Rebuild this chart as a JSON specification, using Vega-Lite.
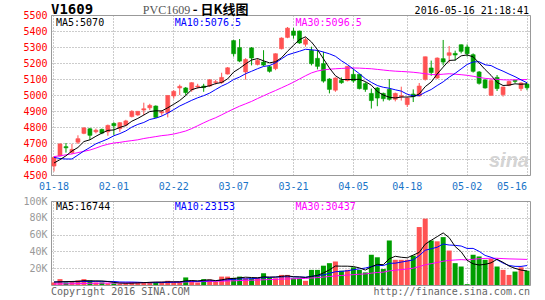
{
  "$schema": "https://vega.github.io/schema/vega-lite/v6.json",
  "autosize": {"type": "pad"},
  "padding": {"left": 22, "top": 2, "right": 16, "bottom": 2},
  "background": "white",
  "bounds": "flush",
  "spacing": 26,
  "config": {
    "view": {"stroke": "#999999", "strokeWidth": 1},
    "axis": {"labelOverlap": false, "labelBound": false, "labelFlush": false},
    "axisY": {"labelOverlap": false},
    "axisQuantitative": {"labelOverlap": false}
  },
  "datasets": {
    "k": [
      {"d":"2016-01-18","o":4556,"h":4615,"l":4522,"c":4610,"v":3000,"m5":4575,"m10":4610,"m30":4615,"v5":3500,"v10":3600,"v30":1200},
      {"d":"2016-01-19","o":4619,"h":4698,"l":4615,"c":4694,"v":7000,"m5":4596,"m10":4603,"m30":4620,"v5":3800,"v10":3700,"v30":1300},
      {"d":"2016-01-20","o":4677,"h":4700,"l":4640,"c":4670,"v":3000,"m5":4620,"m10":4600,"m30":4626,"v5":4000,"v10":3800,"v30":1400},
      {"d":"2016-01-21","o":4640,"h":4695,"l":4630,"c":4660,"v":3500,"m5":4650,"m10":4600,"m30":4632,"v5":4200,"v10":3900,"v30":1500},
      {"d":"2016-01-22","o":4705,"h":4748,"l":4694,"c":4727,"v":5500,"m5":4672,"m10":4625,"m30":4640,"v5":4400,"v10":4000,"v30":1600},
      {"d":"2016-01-25","o":4760,"h":4800,"l":4755,"c":4794,"v":7000,"m5":4709,"m10":4650,"m30":4648,"v5":5200,"v10":4100,"v30":1800},
      {"d":"2016-01-26","o":4789,"h":4795,"l":4720,"c":4748,"v":5500,"m5":4720,"m10":4672,"m30":4656,"v5":4900,"v10":4200,"v30":2000},
      {"d":"2016-01-27","o":4770,"h":4790,"l":4760,"c":4780,"v":3000,"m5":4742,"m10":4695,"m30":4668,"v5":4900,"v10":4300,"v30":2100},
      {"d":"2016-01-28","o":4785,"h":4790,"l":4755,"c":4762,"v":3000,"m5":4762,"m10":4710,"m30":4682,"v5":4800,"v10":4300,"v30":2200},
      {"d":"2016-01-29","o":4770,"h":4815,"l":4745,"c":4810,"v":2000,"m5":4779,"m10":4725.5,"m30":4692,"v5":4100,"v10":4250,"v30":2300},
      {"d":"2016-02-01","o":4822,"h":4830,"l":4750,"c":4808,"v":2000,"m5":4781.6,"m10":4745.3,"m30":4700,"v5":3100,"v10":4150,"v30":2400},
      {"d":"2016-02-02","o":4790,"h":4830,"l":4770,"c":4827,"v":1500,"m5":4797.4,"m10":4758.6,"m30":4704,"v5":2300,"v10":3600,"v30":2500},
      {"d":"2016-02-03","o":4812,"h":4845,"l":4805,"c":4838,"v":2000,"m5":4809,"m10":4775.4,"m30":4710,"v5":2100,"v10":3500,"v30":2600},
      {"d":"2016-02-04","o":4865,"h":4905,"l":4860,"c":4898,"v":3500,"m5":4836.2,"m10":4799.2,"m30":4715,"v5":2200,"v10":3500,"v30":2700},
      {"d":"2016-02-05","o":4875,"h":4900,"l":4870,"c":4898,"v":3500,"m5":4853.8,"m10":4816.3,"m30":4720,"v5":2500,"v10":3300,"v30":2800},
      {"d":"2016-02-15","o":4906,"h":4952,"l":4873,"c":4914,"v":3500,"m5":4875,"m10":4828.3,"m30":4728,"v5":2800,"v10":2950,"v30":2900},
      {"d":"2016-02-16","o":4920,"h":4945,"l":4905,"c":4935,"v":3500,"m5":4896.6,"m10":4847,"m30":4734,"v5":3200,"v10":2750,"v30":3000},
      {"d":"2016-02-17","o":4931,"h":4935,"l":4858,"c":4860,"v":3500,"m5":4901,"m10":4855,"m30":4740,"v5":3500,"v10":2800,"v30":3100},
      {"d":"2016-02-18","o":4888,"h":4905,"l":4870,"c":4895,"v":3500,"m5":4900.4,"m10":4868.3,"m30":4746,"v5":3500,"v10":2850,"v30":3200},
      {"d":"2016-02-19","o":4890,"h":4998,"l":4860,"c":4997,"v":5000,"m5":4920.2,"m10":4887,"m30":4750,"v5":3800,"v10":3150,"v30":3300},
      {"d":"2016-02-22","o":4994,"h":5030,"l":4977,"c":5023,"v":3500,"m5":4942,"m10":4908.5,"m30":4756,"v5":3800,"v10":3300,"v30":3400},
      {"d":"2016-02-23","o":5044,"h":5065,"l":5000,"c":5054,"v":3500,"m5":4965.8,"m10":4931.2,"m30":4765,"v5":3800,"v10":3500,"v30":3500},
      {"d":"2016-02-24","o":5044,"h":5050,"l":4998,"c":5015,"v":9000,"m5":4996.8,"m10":4948.9,"m30":4775,"v5":4900,"v10":4200,"v30":3700},
      {"d":"2016-02-25","o":5032,"h":5080,"l":5020,"c":5077,"v":5500,"m5":5033.2,"m10":4966.8,"m30":4790,"v5":5300,"v10":4400,"v30":3800},
      {"d":"2016-02-26","o":5050,"h":5070,"l":5040,"c":5056,"v":3000,"m5":5045,"m10":4982.6,"m30":4808,"v5":4900,"v10":4350,"v30":3900},
      {"d":"2016-02-29","o":5056,"h":5070,"l":5020,"c":5046,"v":7000,"m5":5049.6,"m10":4995.8,"m30":4826,"v5":5600,"v10":4700,"v30":4100},
      {"d":"2016-03-01","o":5056,"h":5100,"l":5050,"c":5095,"v":6500,"m5":5057.8,"m10":5011.8,"m30":4843,"v5":6200,"v10":5000,"v30":4300},
      {"d":"2016-03-02","o":5078,"h":5095,"l":5065,"c":5083,"v":4000,"m5":5071.4,"m10":5034.1,"m30":4858,"v5":5200,"v10":5050,"v30":4400},
      {"d":"2016-03-03","o":5078,"h":5139,"l":5070,"c":5110,"v":10000,"m5":5078,"m10":5055.6,"m30":4876,"v5":6100,"v10":5700,"v30":4600},
      {"d":"2016-03-04","o":5131,"h":5175,"l":5128,"c":5170,"v":10000,"m5":5100.8,"m10":5072.9,"m30":4895,"v5":7500,"v10":6200,"v30":4800},
      {"d":"2016-03-07","o":5340,"h":5345,"l":5240,"c":5258,"v":8500,"m5":5143.2,"m10":5096.4,"m30":4913,"v5":7800,"v10":6700,"v30":5000},
      {"d":"2016-03-08","o":5296,"h":5350,"l":5205,"c":5212,"v":10000,"m5":5166.6,"m10":5112.2,"m30":4930,"v5":8500,"v10":7350,"v30":5300},
      {"d":"2016-03-09","o":5144,"h":5230,"l":5096,"c":5222,"v":8000,"m5":5194.4,"m10":5132.9,"m30":4945,"v5":9300,"v10":7250,"v30":5500},
      {"d":"2016-03-10","o":5294,"h":5300,"l":5185,"c":5231,"v":8000,"m5":5218.6,"m10":5148.3,"m30":4960,"v5":8900,"v10":7500,"v30":5700},
      {"d":"2016-03-11","o":5191,"h":5230,"l":5185,"c":5216,"v":8500,"m5":5227.8,"m10":5164.3,"m30":4978,"v5":8600,"v10":8050,"v30":5900},
      {"d":"2016-03-14","o":5206,"h":5280,"l":5180,"c":5187,"v":14000,"m5":5213.6,"m10":5178.4,"m30":4995,"v5":9700,"v10":8750,"v30":6200},
      {"d":"2016-03-15","o":5177,"h":5185,"l":5140,"c":5148,"v":9000,"m5":5200.8,"m10":5183.7,"m30":5012,"v5":9500,"v10":9000,"v30":6500},
      {"d":"2016-03-16","o":5165,"h":5260,"l":5155,"c":5258,"v":8000,"m5":5208,"m10":5201.2,"m30":5028,"v5":9500,"v10":9400,"v30":6700},
      {"d":"2016-03-17","o":5289,"h":5360,"l":5285,"c":5356,"v":12000,"m5":5233,"m10":5225.8,"m30":5045,"v5":10300,"v10":9600,"v30":7000},
      {"d":"2016-03-18","o":5360,"h":5425,"l":5355,"c":5418,"v":12000,"m5":5273.4,"m10":5250.6,"m30":5062,"v5":11000,"v10":9800,"v30":7200},
      {"d":"2016-03-21","o":5400,"h":5420,"l":5352,"c":5373,"v":8000,"m5":5310.6,"m10":5262.1,"m30":5080,"v5":9800,"v10":9750,"v30":7400},
      {"d":"2016-03-22","o":5400,"h":5402,"l":5320,"c":5325,"v":8000,"m5":5346,"m10":5273.4,"m30":5100,"v5":9600,"v10":9550,"v30":7600},
      {"d":"2016-03-23","o":5317,"h":5360,"l":5302,"c":5346,"v":5000,"m5":5363.6,"m10":5285.8,"m30":5120,"v5":9000,"v10":9250,"v30":7800},
      {"d":"2016-03-24","o":5279,"h":5302,"l":5185,"c":5196,"v":18000,"m5":5331.6,"m10":5282.3,"m30":5138,"v5":10200,"v10":10250,"v30":8300},
      {"d":"2016-03-25","o":5229,"h":5277,"l":5160,"c":5179,"v":18000,"m5":5283.8,"m10":5278.6,"m30":5150,"v5":11400,"v10":11200,"v30":8800},
      {"d":"2016-03-28","o":5196,"h":5270,"l":5077,"c":5087,"v":23000,"m5":5226.6,"m10":5268.6,"m30":5157,"v5":14400,"v10":12100,"v30":9400},
      {"d":"2016-03-29","o":5100,"h":5105,"l":5010,"c":5035,"v":26000,"m5":5168.6,"m10":5257.3,"m30":5161,"v5":18000,"v10":13800,"v30":10100},
      {"d":"2016-03-30","o":5030,"h":5110,"l":5020,"c":5106,"v":28000,"m5":5120.6,"m10":5242.1,"m30":5164,"v5":22600,"v10":15800,"v30":10800},
      {"d":"2016-03-31","o":5091,"h":5110,"l":5070,"c":5077,"v":17000,"m5":5096.8,"m10":5214.2,"m30":5166,"v5":22400,"v10":16300,"v30":11300},
      {"d":"2016-04-01","o":5090,"h":5180,"l":5085,"c":5179,"v":18000,"m5":5096.8,"m10":5190.3,"m30":5168,"v5":22400,"v10":16900,"v30":11800},
      {"d":"2016-04-05","o":5129,"h":5165,"l":5077,"c":5088,"v":21000,"m5":5097,"m10":5161.8,"m30":5169,"v5":22000,"v10":18200,"v30":12300},
      {"d":"2016-04-06","o":5129,"h":5130,"l":5035,"c":5040,"v":18000,"m5":5098,"m10":5133.3,"m30":5168,"v5":20400,"v10":19200,"v30":12800},
      {"d":"2016-04-07","o":5071,"h":5080,"l":5020,"c":5035,"v":15000,"m5":5083.8,"m10":5102.2,"m30":5166,"v5":17800,"v10":20200,"v30":13200},
      {"d":"2016-04-08","o":5010,"h":5040,"l":4915,"c":4965,"v":36000,"m5":5061.4,"m10":5079.1,"m30":5164,"v5":21600,"v10":22000,"v30":14100},
      {"d":"2016-04-11","o":5044,"h":5050,"l":4930,"c":4981,"v":33000,"m5":5021.8,"m10":5059.3,"m30":5160,"v5":24600,"v10":23500,"v30":14900},
      {"d":"2016-04-12","o":5010,"h":5015,"l":4960,"c":4977,"v":19000,"m5":4999.6,"m10":5048.3,"m30":5156,"v5":24200,"v10":23100,"v30":15300},
      {"d":"2016-04-13","o":5035,"h":5100,"l":4965,"c":4973,"v":53000,"m5":4986.2,"m10":5042.1,"m30":5152,"v5":31200,"v10":25800,"v30":16800},
      {"d":"2016-04-14","o":4973,"h":5015,"l":4960,"c":5010,"v":30000,"m5":4981.2,"m10":5032.5,"m30":5149,"v5":34200,"v10":26000,"v30":17600},
      {"d":"2016-04-15","o":4990,"h":5052,"l":4965,"c":4996,"v":30000,"m5":4987.4,"m10":5024.4,"m30":5147,"v5":33000,"v10":27300,"v30":18300},
      {"d":"2016-04-18","o":4940,"h":4985,"l":4925,"c":4981,"v":30000,"m5":4987.4,"m10":5004.6,"m30":5145,"v5":32400,"v10":28500,"v30":19100},
      {"d":"2016-04-19","o":5006,"h":5035,"l":4956,"c":4990,"v":35000,"m5":4990,"m10":4994.8,"m30":5142,"v5":35600,"v10":29900,"v30":20000},
      {"d":"2016-04-20","o":4994,"h":5075,"l":4990,"c":5056,"v":69000,"m5":5006.6,"m10":4996.4,"m30":5138,"v5":38800,"v10":35000,"v30":21900},
      {"d":"2016-04-21","o":5098,"h":5240,"l":5090,"c":5239,"v":79000,"m5":5052.4,"m10":5016.8,"m30":5133,"v5":48600,"v10":41400,"v30":24100},
      {"d":"2016-04-22","o":5169,"h":5215,"l":5120,"c":5140,"v":53000,"m5":5081.2,"m10":5034.3,"m30":5128,"v5":53200,"v10":43100,"v30":25400},
      {"d":"2016-04-25","o":5106,"h":5235,"l":5100,"c":5231,"v":52000,"m5":5131.2,"m10":5059.3,"m30":5127,"v5":57600,"v10":45000,"v30":26800},
      {"d":"2016-04-26","o":5227,"h":5344,"l":5185,"c":5206,"v":57000,"m5":5174.4,"m10":5082.2,"m30":5130,"v5":62000,"v10":48800,"v30":28300},
      {"d":"2016-04-27","o":5248,"h":5306,"l":5202,"c":5264,"v":41000,"m5":5216,"m10":5111.3,"m30":5133,"v5":56400,"v10":47600,"v30":29300},
      {"d":"2016-04-28","o":5260,"h":5277,"l":5215,"c":5250,"v":26000,"m5":5218.2,"m10":5135.3,"m30":5130,"v5":45800,"v10":47200,"v30":29800},
      {"d":"2016-04-29","o":5314,"h":5316,"l":5260,"c":5273,"v":22000,"m5":5244.8,"m10":5163,"m30":5127,"v5":39600,"v10":46400,"v30":30200},
      {"d":"2016-05-02","o":5300,"h":5316,"l":5240,"c":5258,"v":1000,"m5":5250.2,"m10":5190.7,"m30":5123,"v5":29400,"v10":43500,"v30":29800},
      {"d":"2016-05-03","o":5252,"h":5260,"l":5140,"c":5148,"v":36000,"m5":5238.6,"m10":5206.5,"m30":5117,"v5":25200,"v10":43600,"v30":30600},
      {"d":"2016-05-04","o":5144,"h":5150,"l":5065,"c":5073,"v":34000,"m5":5200.4,"m10":5208.2,"m30":5110,"v5":23800,"v10":40100,"v30":31300},
      {"d":"2016-05-05","o":5094,"h":5100,"l":5040,"c":5044,"v":30000,"m5":5159.2,"m10":5188.7,"m30":5104,"v5":24600,"v10":35200,"v30":31600},
      {"d":"2016-05-06","o":4998,"h":5100,"l":4995,"c":5090,"v":31000,"m5":5122.6,"m10":5183.7,"m30":5101,"v5":26400,"v10":33000,"v30":31900},
      {"d":"2016-05-09","o":5110,"h":5125,"l":5025,"c":5040,"v":22000,"m5":5079,"m10":5164.6,"m30":5098,"v5":30600,"v10":30000,"v30":31800},
      {"d":"2016-05-10","o":5002,"h":5052,"l":4990,"c":5050,"v":18000,"m5":5059.4,"m10":5149,"m30":5095,"v5":27000,"v10":26100,"v30":31400},
      {"d":"2016-05-11","o":5060,"h":5090,"l":5055,"c":5085,"v":12000,"m5":5061.8,"m10":5131.1,"m30":5094,"v5":22600,"v10":23200,"v30":31100},
      {"d":"2016-05-12","o":5092,"h":5095,"l":5075,"c":5085,"v":16000,"m5":5070,"m10":5114.6,"m30":5095,"v5":19800,"v10":22200,"v30":30900},
      {"d":"2016-05-13","o":5040,"h":5080,"l":5025,"c":5075,"v":21000,"m5":5067,"m10":5094.8,"m30":5096,"v5":17800,"v10":22100,"v30":30700},
      {"d":"2016-05-16","o":5068,"h":5075,"l":5030,"c":5045,"v":17000,"m5":5070,"m10":5076.5,"m30":5096.5,"v5":16744,"v10":23153,"v30":30437}
    ]
  },
  "data": {"name": "k"},
  "vconcat": [
    {
      "width": 479,
      "height": 160,
      "encoding": {
        "x": {
          "field": "d", "type": "ordinal",
          "scale": {"paddingInner": 0, "paddingOuter": 0},
          "axis": {
            "values": ["2016-01-18","2016-02-01","2016-02-22","2016-03-07","2016-03-21","2016-04-05","2016-04-18","2016-05-02","2016-05-16"],
            "labelExpr": "substring(datum.value, 5)",
            "labelAlign": {"condition": {"test": "datum.value == '2016-05-16'", "value": "right"}, "value": "center"},
            "labelAngle": 0, "labelOverlap": false, "labelBound": false,
            "grid": true, "gridDash": [1, 2], "gridColor": "#999999", "gridOpacity": 1,
            "bandPosition": 0.5,
            "domain": false, "ticks": false,
            "labelColor": "#1a74c8", "labelFont": "DejaVu Sans Mono", "labelFontSize": 10,
            "labelPadding": 6, "labelBaseline": "top", "title": null
          }
        },
        "y": {
          "type": "quantitative",
          "scale": {"domain": [4500, 5500], "zero": false, "nice": false},
          "axis": {
            "values": [4500,4600,4700,4800,4900,5000,5100,5200,5300,5400,5500],
            "format": "d", "labelOverlap": false, "labelBound": false,
            "grid": true, "gridDash": [1, 2], "gridColor": "#999999", "gridOpacity": 1,
            "domain": false, "ticks": false,
            "labelColor": "#ff0000", "labelFont": "DejaVu Sans Mono", "labelFontSize": 10,
            "labelPadding": 4, "title": null
          }
        }
      },
      "layer": [
        {
          "mark": {"type": "rule", "strokeWidth": 1},
          "encoding": {
            "y": {"field": "l"},
            "y2": {"field": "h"},
            "color": {"condition": {"test": "datum.c >= datum.o", "value": "#ff5252"}, "value": "#009e00"}
          }
        },
        {
          "mark": {"type": "bar", "width": 4, "strokeWidth": 0.6},
          "encoding": {
            "y": {"field": "o"},
            "y2": {"field": "c"},
            "color": {"condition": {"test": "datum.c >= datum.o", "value": "#ff5252"}, "value": "#009e00"},
            "stroke": {"condition": {"test": "datum.c >= datum.o", "value": "#ff5252"}, "value": "#009e00"}
          }
        },
        {
          "mark": {"type": "line", "strokeWidth": 1, "color": "#ff00ff"},
          "encoding": {"y": {"field": "m30"}}
        },
        {
          "mark": {"type": "line", "strokeWidth": 1, "color": "#0000ff"},
          "encoding": {"y": {"field": "m10"}}
        },
        {
          "mark": {"type": "line", "strokeWidth": 1, "color": "#000000"},
          "encoding": {"y": {"field": "m5"}}
        },
        {
          "data": {"values": [{}]},
          "mark": {"type": "text", "align": "left", "baseline": "top", "dx": 2, "dy": 3, "font": "DejaVu Sans Mono", "fontSize": 10, "color": "#000000"},
          "encoding": {"x": {"datum": "2016-01-18", "type": "ordinal"}, "y": {"datum": 5500}, "text": {"value": "MA5:5070"}}
        },
        {
          "data": {"values": [{}]},
          "mark": {"type": "text", "align": "left", "baseline": "top", "dx": 1, "dy": 3, "font": "DejaVu Sans Mono", "fontSize": 10, "color": "#0000ff"},
          "encoding": {"x": {"datum": "2016-02-22", "type": "ordinal"}, "y": {"datum": 5500}, "text": {"value": "MA10:5076.5"}}
        },
        {
          "data": {"values": [{}]},
          "mark": {"type": "text", "align": "left", "baseline": "top", "dx": 2, "dy": 3, "font": "DejaVu Sans Mono", "fontSize": 10, "color": "#ff00ff"},
          "encoding": {"x": {"datum": "2016-03-21", "type": "ordinal"}, "y": {"datum": 5500}, "text": {"value": "MA30:5096.5"}}
        },
        {
          "data": {"values": [{}]},
          "mark": {"type": "text", "align": "left", "baseline": "alphabetic", "dx": -3, "dy": -1, "font": "DejaVu Sans Mono", "fontSize": 14, "fontWeight": "bold", "color": "#000000"},
          "encoding": {"x": {"datum": "2016-01-18", "type": "ordinal"}, "y": {"datum": 5500}, "text": {"value": "V1609"}}
        },
        {
          "data": {"values": [{}]},
          "mark": {"type": "text", "align": "left", "baseline": "alphabetic", "dx": -1, "dy": -1, "font": "Liberation Serif", "fontSize": 12, "color": "#555555"},
          "encoding": {"x": {"datum": "2016-02-15", "type": "ordinal"}, "y": {"datum": 5500}, "text": {"value": "PVC1609"}}
        },
        {
          "data": {"values": [{}]},
          "mark": {"type": "text", "align": "left", "baseline": "alphabetic", "dx": 1, "dy": -1, "font": "Noto Sans CJK SC", "fontSize": 13, "fontWeight": "bold", "color": "#000000"},
          "encoding": {"x": {"datum": "2016-02-25", "type": "ordinal"}, "y": {"datum": 5500}, "text": {"value": "-  日K线图"}}
        },
        {
          "data": {"values": [{}]},
          "mark": {"type": "text", "align": "right", "baseline": "alphabetic", "dx": 2, "dy": -1, "font": "DejaVu Sans Mono", "fontSize": 10, "color": "#000000"},
          "encoding": {"x": {"datum": "2016-05-16", "type": "ordinal"}, "y": {"datum": 5500}, "text": {"value": "2016-05-16 21:18:41"}}
        },
        {
          "data": {"values": [{}]},
          "mark": {"type": "text", "align": "right", "baseline": "bottom", "dx": 2, "dy": -4, "font": "Liberation Sans", "fontSize": 20, "fontStyle": "italic", "fontWeight": "bold", "color": "#d4d4d4"},
          "encoding": {"x": {"datum": "2016-05-16", "type": "ordinal"}, "y": {"datum": 4500}, "text": {"value": "sina"}}
        }
      ]
    },
    {
      "width": 479,
      "height": 84,
      "encoding": {
        "x": {
          "field": "d", "type": "ordinal",
          "scale": {"paddingInner": 0, "paddingOuter": 0},
          "axis": {
            "values": ["2016-01-18","2016-02-01","2016-02-22","2016-03-07","2016-03-21","2016-04-05","2016-04-18","2016-05-02","2016-05-16"],
            "labels": false, "grid": true, "gridDash": [1, 2], "gridColor": "#999999", "gridOpacity": 1,
            "bandPosition": 0.5, "domain": false, "ticks": false, "title": null
          }
        },
        "y": {
          "type": "quantitative",
          "scale": {"domain": [0, 100000], "nice": false},
          "axis": {
            "values": [20000, 40000, 60000, 80000, 100000],
            "labelExpr": "(datum.value / 1000) + 'K'",
            "labelOverlap": false, "labelBound": false,
            "grid": true, "gridDash": [1, 2], "gridColor": "#999999", "gridOpacity": 1,
            "domain": false, "ticks": false,
            "labelColor": "#999999", "labelFont": "DejaVu Sans Mono", "labelFontSize": 10,
            "labelPadding": 4, "title": null
          }
        }
      },
      "layer": [
        {
          "mark": {"type": "bar", "width": 5},
          "encoding": {
            "y": {"field": "v"},
            "color": {"condition": {"test": "datum.c >= datum.o", "value": "#ff5252"}, "value": "#009e00"}
          }
        },
        {
          "mark": {"type": "line", "strokeWidth": 1, "color": "#ff00ff"},
          "encoding": {"y": {"field": "v30"}}
        },
        {
          "mark": {"type": "line", "strokeWidth": 1, "color": "#0000ff"},
          "encoding": {"y": {"field": "v10"}}
        },
        {
          "mark": {"type": "line", "strokeWidth": 1, "color": "#000000"},
          "encoding": {"y": {"field": "v5"}}
        },
        {
          "data": {"values": [{}]},
          "mark": {"type": "text", "align": "left", "baseline": "top", "dx": 2, "dy": 1, "font": "DejaVu Sans Mono", "fontSize": 10, "color": "#000000"},
          "encoding": {"x": {"datum": "2016-01-18", "type": "ordinal"}, "y": {"datum": 100000}, "text": {"value": "MA5:16744"}}
        },
        {
          "data": {"values": [{}]},
          "mark": {"type": "text", "align": "left", "baseline": "top", "dx": 1, "dy": 1, "font": "DejaVu Sans Mono", "fontSize": 10, "color": "#0000ff"},
          "encoding": {"x": {"datum": "2016-02-22", "type": "ordinal"}, "y": {"datum": 100000}, "text": {"value": "MA10:23153"}}
        },
        {
          "data": {"values": [{}]},
          "mark": {"type": "text", "align": "left", "baseline": "top", "dx": 2, "dy": 1, "font": "DejaVu Sans Mono", "fontSize": 10, "color": "#ff00ff"},
          "encoding": {"x": {"datum": "2016-03-21", "type": "ordinal"}, "y": {"datum": 100000}, "text": {"value": "MA30:30437"}}
        },
        {
          "data": {"values": [{}]},
          "mark": {"type": "text", "align": "left", "baseline": "middle", "dx": -3, "dy": 7, "font": "DejaVu Sans Mono", "fontSize": 10, "color": "#666666"},
          "encoding": {"x": {"datum": "2016-01-18", "type": "ordinal"}, "y": {"datum": 0}, "text": {"value": "Copyright 2016 SINA.COM"}}
        },
        {
          "data": {"values": [{}]},
          "mark": {"type": "text", "align": "right", "baseline": "middle", "dx": 3, "dy": 7, "font": "DejaVu Sans Mono", "fontSize": 10, "color": "#666666"},
          "encoding": {"x": {"datum": "2016-05-16", "type": "ordinal"}, "y": {"datum": 0}, "text": {"value": "http://finance.sina.com.cn"}}
        }
      ]
    }
  ]
}
